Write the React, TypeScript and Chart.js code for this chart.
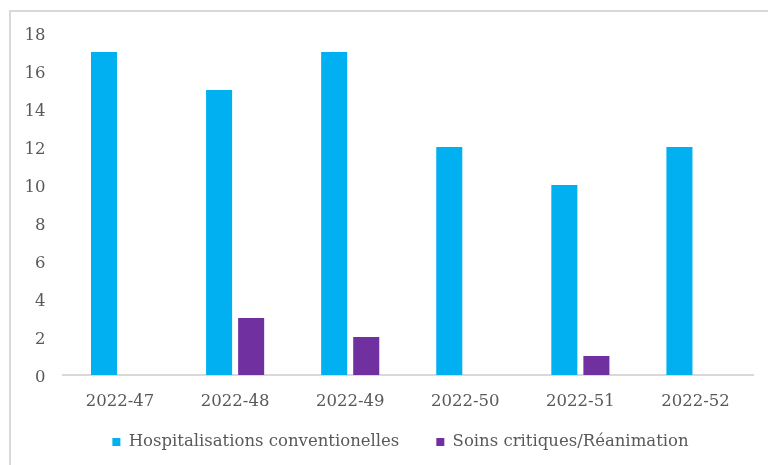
import React, { useEffect, useRef } from "react";
import { Chart, registerables } from "chart.js";

Chart.register(...registerables);

const categories = ["2022-47", "2022-48", "2022-49", "2022-50", "2022-51", "2022-52"];
const hospitalisations = [17, 15, 17, 12, 10, 12];
const soinsCritiques = [0, 3, 2, 0, 1, 0];
const seriesNames = ["Hospitalisations conventionelles", "Soins critiques/Réanimation"];

const FONT = "'DejaVu Serif', serif";
const TEXT = "#595959";

const legendShift = {
  id: "legendShift",
  afterLayout(chart: any) {
    const l = chart.legend;
    if (!l) return;
    const dx = 11;
    const dy = -18.25;
    l.left += dx;
    l.right += dx;
    l.top += dy;
    l.bottom += dy;
  },
};

export default function App() {
  const ref = useRef<HTMLCanvasElement | null>(null);
  useEffect(() => {
    if (!ref.current) return;
    const chart = new Chart(ref.current, {
      type: "bar",
      data: {
        labels: categories,
        datasets: [
          {
            label: seriesNames[0],
            data: hospitalisations,
            backgroundColor: "#00B0F0",
            categoryPercentage: 0.557,
            barPercentage: 0.8125,
          },
          {
            label: seriesNames[1],
            data: soinsCritiques,
            backgroundColor: "#7030A0",
            categoryPercentage: 0.557,
            barPercentage: 0.8125,
          },
        ],
      },
      options: {
        animation: false,
        responsive: false,
        maintainAspectRatio: false,
        layout: { padding: { left: 26, right: 15, top: 33, bottom: -13.5 } },
        plugins: {
          tooltip: { enabled: false },
          legend: {
            position: "bottom",
            labels: {
              boxWidth: 8,
              boxHeight: 8,
              padding: 37,
              color: TEXT,
              font: { family: FONT, size: 16.5 },
            },
          },
        },
        scales: {
          x: {
            grid: { display: false, drawTicks: false },
            border: { display: true, color: "#d9d9d9", width: 2 },
            ticks: { color: TEXT, font: { family: FONT, size: 16.5 }, padding: 17 },
            afterFit: (s: any) => {
              s.height = 40;
            },
          },
          y: {
            min: 0,
            max: 18,
            grid: { display: false, drawTicks: false },
            border: { display: false },
            ticks: {
              stepSize: 2,
              color: TEXT,
              font: { family: FONT, size: 16.5 },
              padding: 17,
              labelOffset: 3,
            },
            afterFit: (s: any) => {
              s.width = 36.5;
            },
          },
        },
      },
      plugins: [legendShift],
    });
    return () => chart.destroy();
  }, []);
  return (
    <>
      <div
        style={{
          position: "fixed",
          left: 9,
          top: 10,
          width: 800,
          height: 500,
          border: "2px solid #d9d9d9",
          boxSizing: "border-box",
          background: "#fff",
        }}
      />
      <canvas
        ref={ref}
        width={768}
        height={465}
        style={{ position: "fixed", left: 0, top: 0, width: 768, height: 465 }}
      />
    </>
  );
}
